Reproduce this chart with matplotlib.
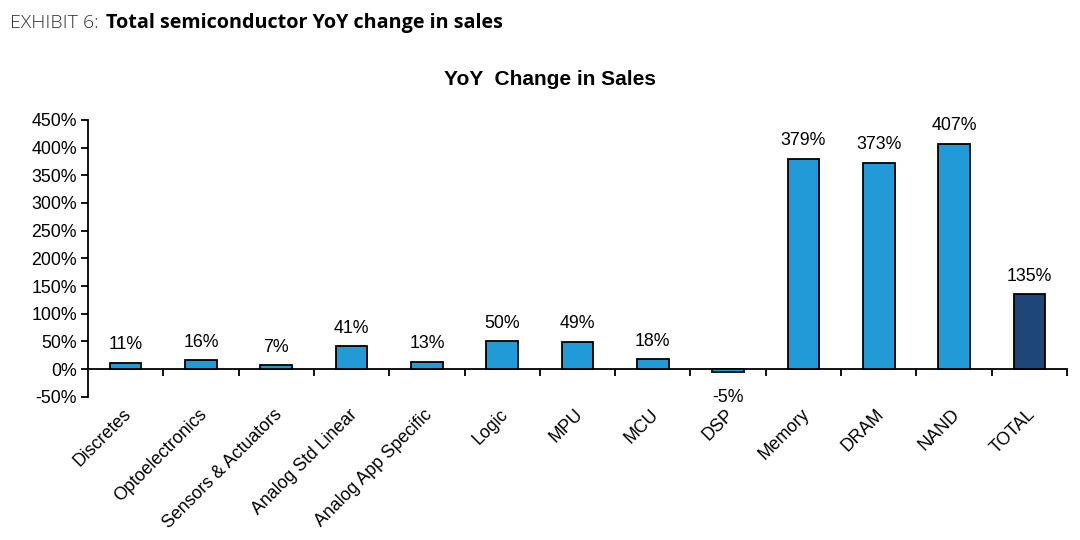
import matplotlib.pyplot as plt
import matplotlib.transforms as mtransforms
from matplotlib.ticker import FixedLocator, FuncFormatter

plt.rcParams['font.family'] = ['Liberation Sans', 'DejaVu Sans']

categories = ["Discretes", "Optoelectronics", "Sensors & Actuators", "Analog Std Linear",
              "Analog App Specific", "Logic", "MPU", "MCU", "DSP", "Memory", "DRAM",
              "NAND", "TOTAL"]
yoy_change = [11, 16, 7, 41, 13, 50, 49, 18, -5, 379, 373, 407, 135]

colors = ["#229AD8"] * (len(categories) - 1) + ["#1F4678"]

fig = plt.figure(figsize=(10.8, 5.4), dpi=100)
ax = fig.add_axes([0.0815, 0.265, 0.9065, 0.513])

x = list(range(len(categories)))
ax.bar(x, yoy_change, width=0.42, color=colors, edgecolor="black", linewidth=1.3, zorder=3)

ax.set_xlim(-0.5, len(categories) - 0.5)
ax.set_ylim(-50, 450)
ax.set_yticks(range(-50, 451, 50))
ax.yaxis.set_major_formatter(FuncFormatter(lambda v, p: f"{int(v)}%"))
ax.tick_params(axis="y", labelsize=12.8, length=5, width=1.3, direction="out", pad=3)

# x axis sits on the zero line, ticks between categories
ax.spines["bottom"].set_position(("data", 0))
ax.spines["bottom"].set_linewidth(1.3)
ax.spines["left"].set_linewidth(1.3)
ax.spines["top"].set_visible(False)
ax.spines["right"].set_visible(False)
ax.xaxis.set_major_locator(FixedLocator([i + 0.5 for i in range(len(categories))]))
ax.tick_params(axis="x", length=5, width=1.3, direction="out", labelbottom=False)

# category labels below the plot area
lab_trans = mtransforms.offset_copy(ax.transData, fig=fig, x=-3, y=-9, units="dots")
for i, name in enumerate(categories):
    ax.text(i, -50, name, transform=lab_trans, rotation=45, ha="right", va="top",
            rotation_mode="anchor", fontsize=12.8)

# value labels
for i, v in enumerate(yoy_change):
    if v >= 0:
        ax.annotate(f"{v}%", (i, v), xytext=(0, 7), textcoords="offset points",
                    ha="center", va="bottom", fontsize=12.8)
    else:
        ax.annotate(f"{v}%", (i, v), xytext=(0, -12), textcoords="offset points",
                    ha="center", va="top", fontsize=12.8)

fig.text(0.509, 0.852, "YoY  Change in Sales", ha="center", va="center",
         fontsize=15, fontweight="bold")

fig.text(0.009, 0.958, "EXHIBIT 6: ", ha="left", va="center", fontsize=14,
         family=["Open Sans", "DejaVu Sans"], fontweight="light", color="#333333")
fig.text(0.098, 0.958, "Total semiconductor YoY change in sales", ha="left", va="center",
         fontsize=14.2, family=["Open Sans", "DejaVu Sans"], fontweight="bold")

fig.savefig("out.png", dpi=100)
